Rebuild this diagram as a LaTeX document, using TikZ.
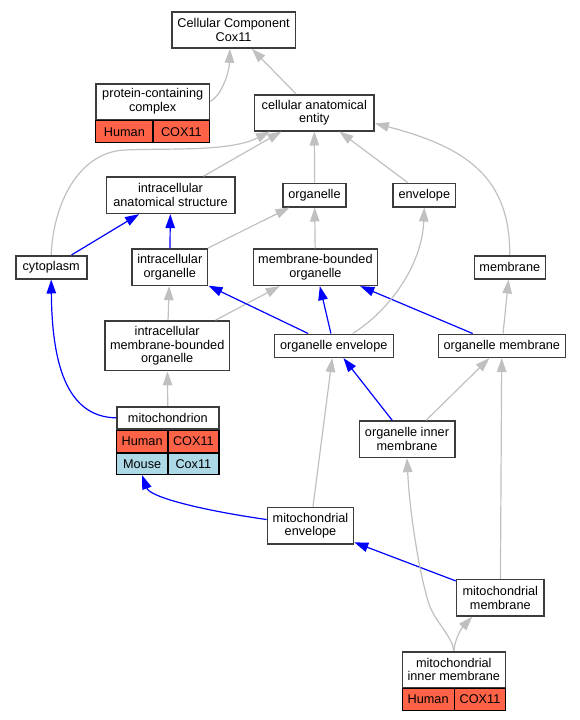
\documentclass[tikz,border=0pt]{standalone}
\usepackage{fontspec}
\setmainfont{Liberation Sans}
\usetikzlibrary{arrows.meta}
\definecolor{boxline}{HTML}{3C3C3C}
\definecolor{isagray}{HTML}{C0C0C0}
\definecolor{tomato}{HTML}{FF6347}
\definecolor{lightblue}{HTML}{ADD8E6}
\tikzset{
  term/.style={draw=boxline, line width=1.6pt, fill=white, inner sep=0pt, align=center,
    font=\fontsize{12.7}{13.6}\selectfont},
  cell/.style={draw=black, line width=1.2pt, inner sep=0pt, font=\fontsize{12.7}{13.6}\selectfont},
  human/.style={cell, fill=tomato},
  mouse/.style={cell, fill=lightblue},
  sz/.style 2 args={minimum width=#1pt, minimum height=#2pt},
  isa/.style={draw=isagray, line width=1.2pt, -{Triangle[length=14pt,width=9.5pt]}},
  partof/.style={draw=blue, line width=1.2pt, -{Triangle[length=14pt,width=9.5pt]}}
}
\begin{document}
\begin{tikzpicture}[x=1pt, y=1pt]
  \useasboundingbox (0,0) rectangle (580,-720);
  \node[term, sz={123.8}{36}] (root) at (233.6,-30) {Cellular Component\\Cox11};
  \node[term, sz={113.3}{35.6}] (pcc) at (152.7,-101.5) {protein-containing\\complex};
  \node[human, sz={57}{22}, anchor=north west] (pcc-sp) at (pcc.south west) {Human};
  \node[human, sz={56.3}{22}, anchor=north east] (pcc-gn) at (pcc.south east) {COX11};
  \node[term, sz={119.5}{36}] (cae) at (314.3,-112.7) {cellular anatomical\\entity};
  \node[term, sz={128.4}{36.3}] (ias) at (170.5,-195.2) {intracellular\\anatomical structure};
  \node[term, sz={63.5}{23.4}] (org) at (314.5,-195) {organelle};
  \node[term, sz={62.7}{23.4}] (env) at (424.3,-195) {envelope};
  \node[term, sz={71}{23}] (cyto) at (51.2,-267.2) {cytoplasm};
  \node[term, sz={75.7}{36.3}] (io) at (169.8,-267.2) {intracellular\\organelle};
  \node[term, sz={124}{36.3}] (mbo) at (315.4,-267.2) {membrane-bounded\\organelle};
  \node[term, sz={71}{23}] (memb) at (509.8,-267.2) {membrane};
  \node[term, sz={124.3}{49.7}] (imbo) at (167.2,-345.8) {intracellular\\membrane-bounded\\organelle};
  \node[term, sz={119}{23}] (oe) at (333.8,-345.8) {organelle envelope};
  \node[term, sz={127}{23}] (om) at (501.8,-345.8) {organelle membrane};
  \node[term, sz={101.7}{22.3}] (mito) at (167.85,-417.85) {mitochondrion};
  \node[human, sz={50.7}{21.7}, anchor=north west] (mito-hs) at (mito.south west) {Human};
  \node[human, sz={51}{21.7}, anchor=north east] (mito-hg) at (mito.south east) {COX11};
  \node[mouse, sz={50.7}{21.3}, anchor=north west] (mito-ms) at (mito-hs.south west) {Mouse};
  \node[mouse, sz={51}{21.3}, anchor=north east] (mito-mg) at (mito-hg.south east) {Cox11};
  \node[term, sz={95.4}{36.3}] (oim) at (407,-439.2) {organelle inner\\membrane};
  \node[term, sz={86}{36.5}] (menv) at (310.5,-525.7) {mitochondrial\\envelope};
  \node[term, sz={87.3}{36.3}] (mmem) at (500.3,-597.8) {mitochondrial\\membrane};
  \node[term, sz={103}{35.6}] (mim) at (453.8,-669.5) {mitochondrial\\inner membrane};
  \node[human, sz={52}{21.7}, anchor=north west] (mim-sp) at (mim.south west) {Human};
  \node[human, sz={51}{21.7}, anchor=north east] (mim-gn) at (mim.south east) {COX11};

  \draw[isa] (pcc.east) .. controls (220,-97) and (229,-75) .. (root.-101);
  \draw[isa] (cae) -- (root);
  \draw[isa] (ias) -- (cae);
  \draw[isa] (cyto.north) .. controls (53,-205) and (78,-152) .. (125,-150)
    .. controls (170,-148) and (230,-152) .. (cae.-157);
  \draw[isa] (org) -- (cae);
  \draw[isa] (env) -- (cae);
  \draw[isa] (memb.north) .. controls (510,-180) and (470,-148) .. (cae.-10);
  \draw[partof] (cyto) -- (ias);
  \draw[partof] (io) -- (ias);
  \draw[isa] (io) -- (org);
  \draw[isa] (mbo) -- (org);
  \draw[isa] (imbo) -- (io);
  \draw[isa] (imbo) -- (mbo);
  \draw[partof] (oe) -- (io);
  \draw[partof] (oe) -- (mbo);
  \draw[partof] (om) -- (mbo);
  \draw[isa] (oe.33) .. controls (390,-310) and (422,-265) .. (env.south);
  \draw[isa] (om) -- (memb);
  \draw[isa] (mito) -- (imbo);
  \draw[partof] (mito.west) .. controls (65,-417) and (52,-360) .. (cyto.south);
  \draw[partof] (oim) -- (oe);
  \draw[isa] (oim) -- (om);
  \draw[isa] (menv) -- (oe);
  \draw[partof] (menv.172) .. controls (200,-510) and (150,-497) .. (mito-ms.south);
  \draw[partof] (mmem) -- (menv);
  \draw[isa] (mmem) -- (om);
  \draw[isa] (mim.north) .. controls (453,-638) and (436,-622) .. (430,-606.7)
    .. controls (422,-586) and (410,-520) .. (oim.south);
  \draw[isa] (mim.north) .. controls (455,-640) and (460,-630) .. (mmem.-146);
\end{tikzpicture}
\end{document}
